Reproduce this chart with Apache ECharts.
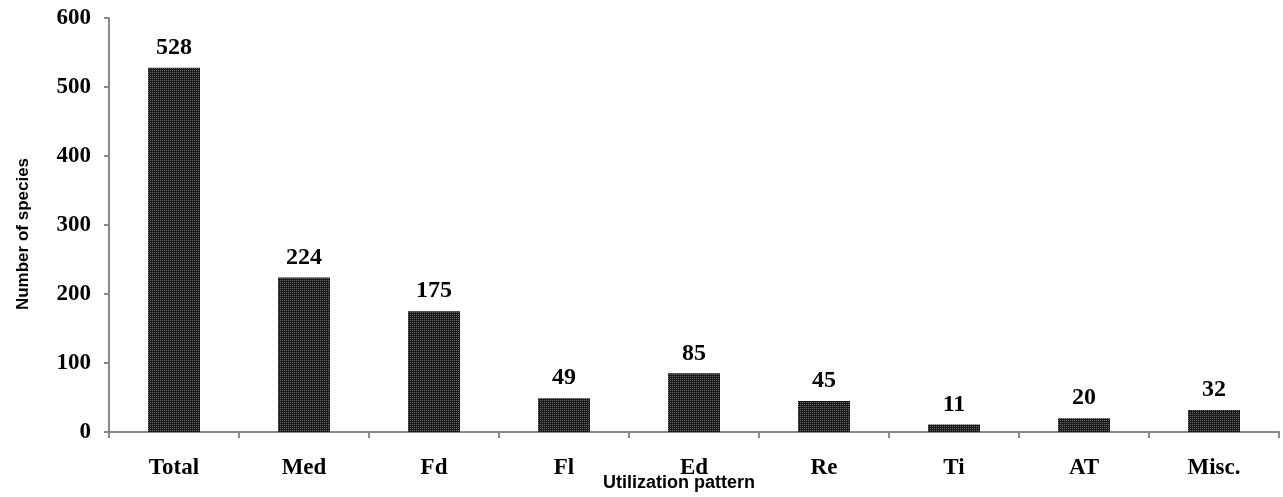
<!DOCTYPE html>
<html><head><meta charset="utf-8">
<script src="https://cdn.jsdelivr.net/npm/echarts@6/dist/echarts.min.js"></script>
<style>html,body{margin:0;padding:0;background:#fff}#c{width:1283px;height:497px}</style>
</head><body><div id="c"></div>
<script>
const categories = ['Total','Med','Fd','Fl','Ed','Re','Ti','AT','Misc.'];
const speciesCounts = [528,224,175,49,85,45,11,20,32];
const yTicks = [0,100,200,300,400,500,600];

// dotted dark fill pattern
const pc = document.createElement('canvas');
pc.width = 2; pc.height = 2;
const px = pc.getContext('2d');
px.fillStyle = '#1a1a1a'; px.fillRect(0,0,2,2);
px.fillStyle = '#6a6a6a'; px.fillRect(0,0,1,1);

const chart = echarts.init(document.getElementById('c'), null, {renderer:'canvas'});
const serif = "'Liberation Serif','Times New Roman',serif";
chart.setOption({
  animation:false,
  grid:{left:109,right:4,top:18,bottom:65,containLabel:false,outerBoundsMode:'none'},
  xAxis:{
    type:'category', data:categories,
    name:'Utilization pattern', nameLocation:'middle', nameGap:42, nameMoveOverlap:false,
    nameTextStyle:{fontFamily:"'Liberation Sans',Arial,sans-serif",fontWeight:'bold',fontSize:18,color:'#000',padding:[0,30,0,0],verticalAlign:'top'},
    axisLine:{lineStyle:{color:'#888',width:2}},
    axisTick:{show:true,alignWithLabel:false,length:6,lineStyle:{color:'#888',width:2}},
    axisLabel:{fontFamily:serif,fontWeight:'bold',fontSize:23,color:'#000',margin:25}
  },
  yAxis:{
    type:'value', min:yTicks[0], max:yTicks[yTicks.length-1], interval:100,
    name:'Number of species', nameLocation:'middle', nameGap:77, nameRotate:90, nameMoveOverlap:false,
    nameTextStyle:{fontFamily:"'Liberation Sans',Arial,sans-serif",fontWeight:'bold',fontSize:17,color:'#000',padding:[0,18,0,0]},
    axisLine:{show:true,lineStyle:{color:'#888',width:2}},
    axisTick:{show:true,inside:false,length:5,lineStyle:{color:'#888',width:2}},
    splitLine:{show:false},
    axisLabel:{fontFamily:serif,fontWeight:'bold',fontSize:23,color:'#000',margin:18}
  },
  series:[{
    type:'bar', data:speciesCounts, barWidth:52,
    itemStyle:{color:{image:pc,repeat:'repeat'}},
    label:{show:true,position:'top',distance:8,fontFamily:serif,fontWeight:'bold',fontSize:24,color:'#000'}
  }]
});
</script></body></html>
